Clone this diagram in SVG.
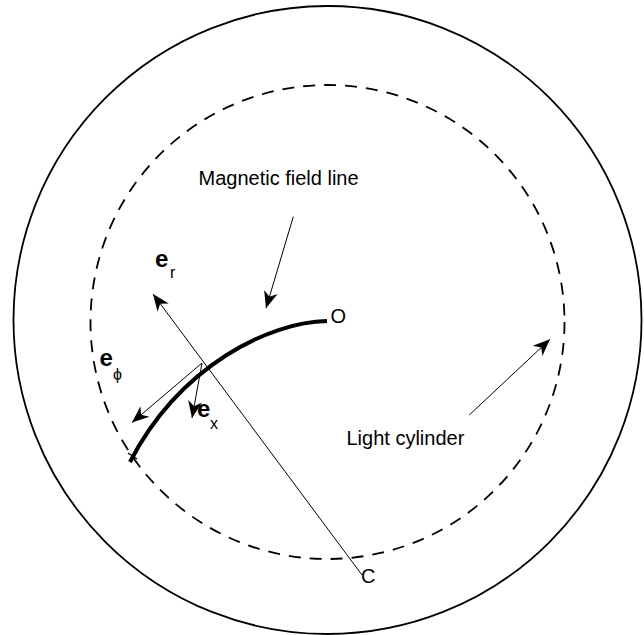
<svg xmlns="http://www.w3.org/2000/svg" width="644" height="635" viewBox="0 0 644 635">
  <style>
    .lbl { font-family: "Liberation Sans", Arial, sans-serif; font-size: 20px; fill: #000; }
    .vec { font-family: "Liberation Sans", Arial, sans-serif; font-size: 24px; font-weight: bold; fill: #000; }
    .sub { font-family: "Liberation Sans", Arial, sans-serif; font-size: 16px; fill: #000; }
    .thin { stroke: #000; stroke-width: 1; fill: none; }
  </style>
  <defs>
    <marker id="arr" viewBox="-20 -10 22 20" markerWidth="22" markerHeight="20" refX="0" refY="0" orient="auto" markerUnits="userSpaceOnUse">
      <path d="M0,0 L-17,-7 L-12,0 L-17,7 Z" fill="#000"/>
    </marker>
  </defs>
  <rect width="644" height="635" fill="#fff"/>

  <g id="outer-circle">
    <circle cx="327.5" cy="320" r="314" fill="none" stroke="#000" stroke-width="1.8"/>
  </g>

  <g id="light-cylinder">
    <circle cx="327.5" cy="322" r="237" fill="none" stroke="#000" stroke-width="1.8" stroke-dasharray="12 9"/>
    <text class="lbl" x="346.5" y="445">Light cylinder</text>
  </g>

  <g id="field-line">
    <path d="M327,321 C270,322 180,365 130,462" fill="none" stroke="#000" stroke-width="4"/>
    <line x1="128" y1="453" x2="137" y2="459" stroke="#000" stroke-width="1.5"/>
    <text class="lbl" x="198.5" y="185">Magnetic field line</text>
  </g>

  <g id="point-O">
    <text class="lbl" x="330.5" y="323">O</text>
  </g>

  <g id="point-C">
    <text class="lbl" x="361" y="583">C</text>
  </g>

  <g id="label-er">
    <text class="vec" x="155" y="266.5">e</text>
    <text class="sub" x="170" y="278">r</text>
  </g>

  <g id="label-ephi">
    <text class="vec" x="99.5" y="366">e</text>
    <text class="sub" x="113" y="380">ϕ</text>
  </g>

  <g id="label-ex">
    <text class="vec" x="197" y="417">e</text>
    <text class="sub" x="210" y="428.5">x</text>
  </g>

  <g id="connectors">
    <line class="thin" x1="362" y1="575" x2="153" y2="294" marker-end="url(#arr)"/>
    <line class="thin" x1="202" y1="363" x2="132" y2="422.5" marker-end="url(#arr)"/>
    <line class="thin" x1="202" y1="363" x2="192" y2="418" marker-end="url(#arr)"/>
    <line class="thin" x1="293.3" y1="216.7" x2="266" y2="308.3" marker-end="url(#arr)"/>
    <line class="thin" x1="469.3" y1="415" x2="550" y2="339.3" marker-end="url(#arr)"/>
  </g>
</svg>
